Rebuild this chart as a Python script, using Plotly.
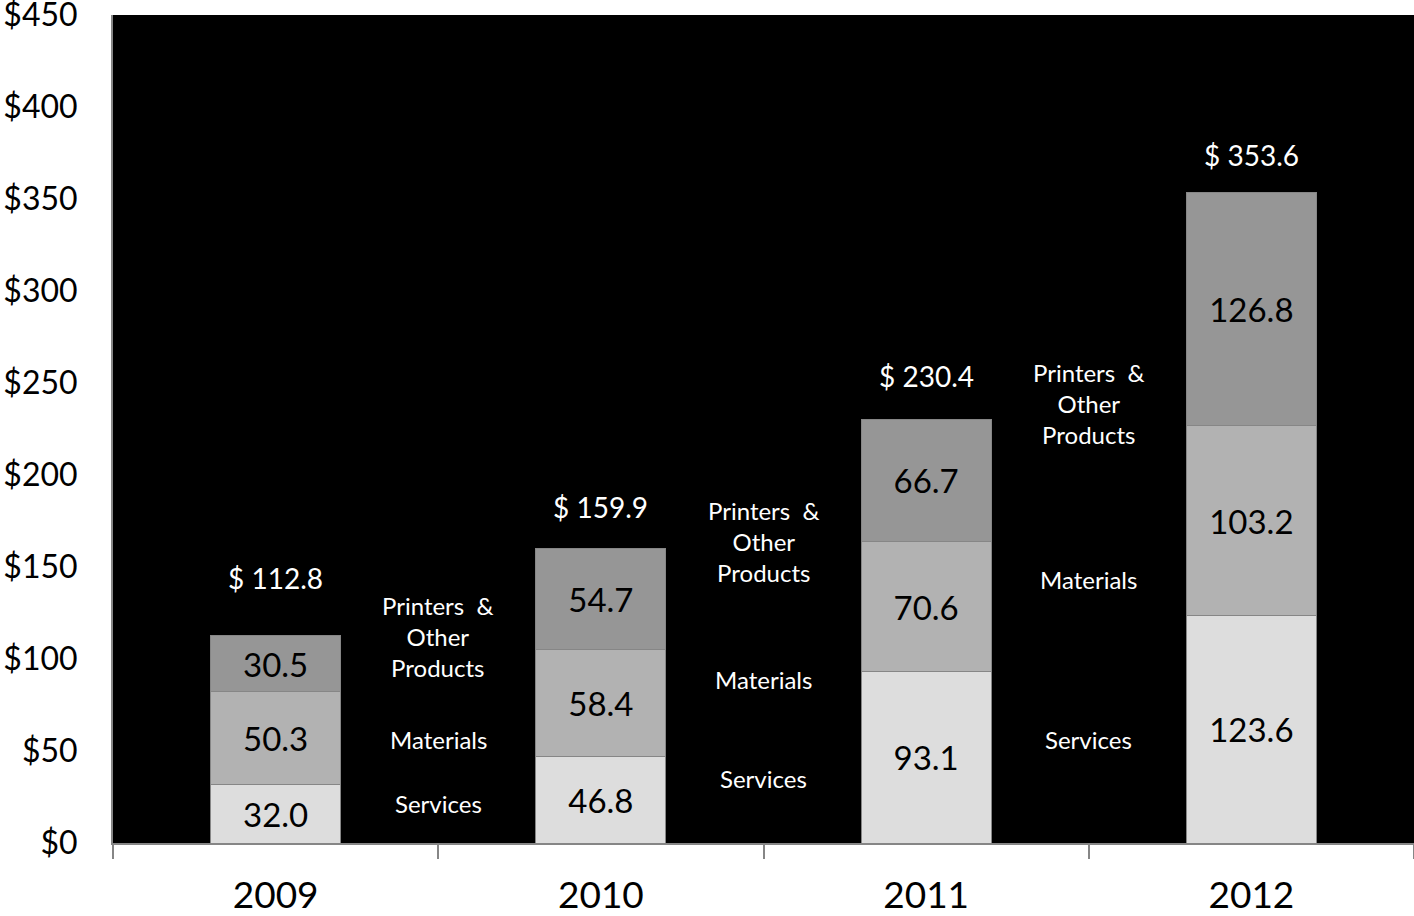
import plotly.graph_objects as go

# Revenue by segment, $ millions
years = ["2009", "2010", "2011", "2012"]
services = [32.0, 46.8, 93.1, 123.6]
materials = [50.3, 58.4, 70.6, 103.2]
printers = [30.5, 54.7, 66.7, 126.8]
totals = [112.8, 159.9, 230.4, 353.6]

segment_names = ["Services", "Materials", "Printers  &<br>Other<br>Products"]
y_ticks = [0, 50, 100, 150, 200, 250, 300, 350, 400, 450]
y_tick_text = ["$" + str(v) for v in y_ticks]

# Styling
FONT = "Lato"
colors = ["#dddddd", "#b2b2b2", "#969696"]
axis_gray = "#868686"

fig = go.Figure()
for name, vals, col in zip(["Services", "Materials", "Printers & Other Products"],
                           [services, materials, printers], colors):
    fig.add_trace(go.Bar(
        x=years, y=vals, name=name,
        marker=dict(color=col, line=dict(color=axis_gray, width=1)),
        text=[f"{v:.1f}" for v in vals],
        textposition="inside", insidetextanchor="middle", textangle=0,
        textfont=dict(family=FONT, size=33, color="black"),
        constraintext="none",
    ))

# Totals above each column (x given as category index)
total_offsets = [57, 42, 43, 37]
for i, (tot, off) in enumerate(zip(totals, total_offsets)):
    fig.add_annotation(x=i, y=tot, yshift=off, text=f"$ {tot:.1f}",
                       showarrow=False, font=dict(family=FONT, size=28, color="white"))

# Segment captions placed in the gaps between columns
caption_x = [0.5, 1.5, 2.5]
caption_y = [
    [21.7, 56.5, 112.0],
    [34.8, 89.0, 164.0],
    [56.0, 143.0, 238.6],
]
for cx, ys in zip(caption_x, caption_y):
    for txt, cy in zip(segment_names, ys):
        fig.add_annotation(x=cx, y=cy, text=txt, showarrow=False,
                           font=dict(family=FONT, size=24, color="white"),
                           align="center")

fig.update_layout(
    barmode="stack", bargap=0.6,
    width=1414, height=916,
    margin=dict(l=113, r=0, t=15, b=73, autoexpand=False),
    paper_bgcolor="white", plot_bgcolor="black",
    showlegend=False,
    font=dict(family=FONT, color="black"),
)
fig.update_xaxes(
    type="category", range=[-0.5, 3.5], autorange=False,
    showline=True, linecolor=axis_gray, linewidth=2,
    ticks="outside", tickson="boundaries", ticklen=14, tickcolor=axis_gray, tickwidth=2,
    tickfont=dict(family=FONT, size=37, color="black"), tickangle=0, showgrid=False,
    ticklabelstandoff=19, automargin=False,
)
fig.update_yaxes(
    range=[0, 450], autorange=False, tickvals=y_ticks, ticktext=y_tick_text,
    showline=True, linecolor=axis_gray, linewidth=2, showgrid=False, zeroline=False,
    ticks="", tickfont=dict(family=FONT, size=32, color="black"), ticklabelstandoff=27,
    ticklabeloverflow="allow", automargin=False,
)

fig.write_html("out.html")
